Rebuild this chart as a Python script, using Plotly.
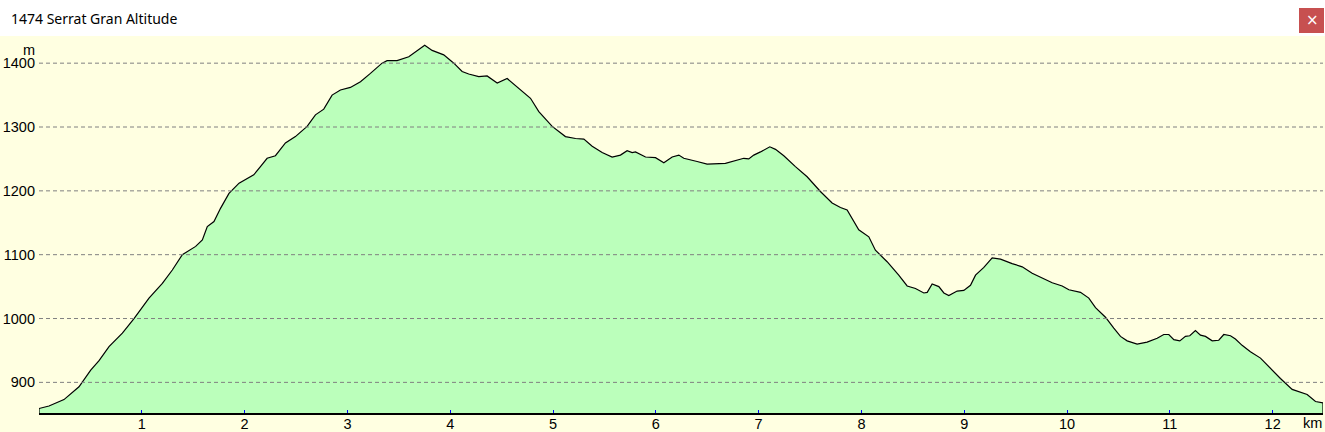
import plotly.graph_objects as go

# ---- data ----
distance_km = [
    0.0, 0.097, 0.243, 0.389, 0.503, 0.584, 0.681, 0.811, 0.924, 1.070, 1.200, 1.297, 1.394,
    1.524, 1.589, 1.637, 1.702, 1.767, 1.848, 1.946, 2.075,
    2.089, 2.154, 2.219, 2.300, 2.397, 2.494, 2.608, 2.689, 2.770, 2.851, 2.932, 3.029, 3.127,
    3.224, 3.337, 3.386, 3.483, 3.597, 3.694, 3.752, 3.824, 3.937, 4.035, 4.116, 4.180,
    4.278, 4.359, 4.457, 4.554, 4.667, 4.781, 4.862, 4.992, 5.121, 5.219, 5.300, 5.381, 5.478,
    5.575, 5.656, 5.721, 5.770, 5.802, 5.900, 5.997, 6.078, 6.159, 6.224, 6.272,
    6.402, 6.499, 6.677, 6.775, 6.856, 6.904, 6.953, 7.018, 7.109, 7.164, 7.245, 7.358, 7.472,
    7.601, 7.715, 7.796, 7.861, 7.974, 8.072, 8.136, 8.250, 8.363,
    8.445, 8.526, 8.607, 8.640, 8.688, 8.753, 8.802, 8.850, 8.931, 8.996, 9.061, 9.110, 9.191,
    9.272, 9.353, 9.466, 9.564, 9.661, 9.758, 9.856, 9.953, 10.018, 10.131, 10.212, 10.277,
    10.374, 10.455,
    10.520, 10.585, 10.682, 10.779, 10.877, 10.941, 10.990, 11.039, 11.097, 11.152, 11.194,
    11.249, 11.298, 11.347, 11.412, 11.476, 11.525, 11.590, 11.638, 11.703, 11.784, 11.882,
    11.979, 12.076, 12.190, 12.287, 12.336, 12.417, 12.490,
]
altitude_m = [
    859, 863, 873, 893, 919, 934, 956, 977, 1000, 1032, 1055, 1076, 1100,
    1113, 1123, 1144, 1152, 1173, 1196, 1212, 1223,
    1225, 1238, 1251, 1255, 1275, 1285, 1301, 1319, 1328, 1350, 1358, 1362, 1371,
    1384, 1400, 1404, 1404, 1410, 1422, 1428, 1420, 1413, 1400, 1387, 1383,
    1379, 1380, 1369, 1376, 1361, 1345, 1324, 1301, 1285, 1282, 1281, 1270, 1260,
    1253, 1256, 1263, 1260, 1261, 1253, 1252, 1244, 1253, 1256, 1251,
    1246, 1242, 1243, 1247, 1251, 1250, 1256, 1261, 1269, 1265, 1255, 1238, 1222,
    1199, 1181, 1174, 1170, 1139, 1128, 1107, 1089, 1068,
    1051, 1047, 1040, 1041, 1054, 1050, 1040, 1036, 1043, 1044, 1052, 1068, 1080,
    1095, 1093, 1086, 1081, 1071, 1064, 1056, 1051, 1045, 1041, 1032, 1017,
    1002, 985,
    972, 965, 960, 963, 969, 975, 975, 967, 965, 972, 973,
    981, 974, 972, 965, 966, 975, 973, 968, 958, 948, 938,
    922, 906, 889, 884, 881, 870, 868,
]
y_ticks = [900, 1000, 1100, 1200, 1300, 1400]
x_ticks = [1, 2, 3, 4, 5, 6, 7, 8, 9, 10, 11, 12]
x_tick_labels = [str(v) for v in x_ticks]
title_text = "1474 Serrat Gran Altitude"
y_unit = "m"
x_unit = "km"

Y_MIN, Y_MAX = 852, 1441

# ---- layout geometry ----
W, H = 1325, 432
ML, MR, MT, MB = 39, 2, 37, 19
PW, PH = W - ML - MR, H - MT - MB


def px2x(px):
    return (px - ML) / PW


def py2y(py):
    return 1 - (py - MT) / PH


BG = "#FFFFE1"
FILL = "#BBFFBB"
TICK_FONT = dict(family="Liberation Sans", size=14.5, color="black")

xs = [distance_km[0]] + distance_km + [distance_km[-1]]
ys = [Y_MIN] + altitude_m + [Y_MIN]

fig = go.Figure()
fig.add_trace(go.Scatter(
    x=xs, y=ys, mode="lines", fill="toself", fillcolor=FILL,
    line=dict(color="black", width=1.2), hoverinfo="skip", showlegend=False,
))

shapes = []
# dashed gridlines drawn above the fill
for v in y_ticks:
    shapes.append(dict(type="line", xref="paper", yref="y", x0=0, x1=1, y0=v, y1=v,
                       line=dict(color="#808080", width=1, dash="4px,3px"), layer="above"))
# title bar
shapes.append(dict(type="rect", xref="paper", yref="paper", x0=px2x(0), x1=px2x(W),
                   y0=py2y(36), y1=py2y(0), fillcolor="white", line=dict(width=0), layer="above"))
# close button
shapes.append(dict(type="rect", xref="paper", yref="paper", x0=px2x(1299), x1=px2x(1324),
                   y0=py2y(33), y1=py2y(8), fillcolor="#C75050", line=dict(width=0), layer="above"))

annotations = [
    dict(text=title_text, xref="paper", yref="paper", x=px2x(9), y=py2y(18),
         xanchor="left", yanchor="middle", showarrow=False,
         font=dict(family="Noto Sans", size=14, color="black")),
    dict(text="×", xref="paper", yref="paper", x=px2x(1312), y=py2y(20),
         xanchor="center", yanchor="middle", showarrow=False,
         font=dict(family="DejaVu Sans", size=15, color="white")),
    dict(text=y_unit, xref="paper", yref="paper", x=px2x(37), y=py2y(50),
         xanchor="right", yanchor="middle", showarrow=False, font=TICK_FONT),
    dict(text=x_unit, xref="paper", yref="paper", x=px2x(1324), y=py2y(423),
         xanchor="right", yanchor="middle", showarrow=False, font=TICK_FONT),
]

fig.update_layout(
    width=W, height=H,
    margin=dict(l=ML, r=MR, t=MT, b=MB, pad=0, autoexpand=False),
    paper_bgcolor=BG, plot_bgcolor=BG,
    shapes=shapes, annotations=annotations,
    showlegend=False,
    xaxis=dict(range=[0, distance_km[-1]], tickvals=x_ticks, ticktext=x_tick_labels,
               showgrid=False, zeroline=False, showline=True, linecolor="black", linewidth=1.5,
               ticks="inside", ticklen=3, tickcolor="#0000FF", tickwidth=1,
               tickfont=TICK_FONT, automargin=False,
               ticklabelstandoff=-3, fixedrange=True),
    yaxis=dict(range=[Y_MIN, Y_MAX], tickvals=y_ticks,
               showgrid=False, zeroline=False, showline=False, ticks="",
               tickfont=TICK_FONT, automargin=False,
               ticklabelstandoff=3, fixedrange=True),
)

fig.write_html("out.html", config={"displayModeBar": False},
               post_script="document.body.style.margin='0';document.body.style.overflow='hidden';")
